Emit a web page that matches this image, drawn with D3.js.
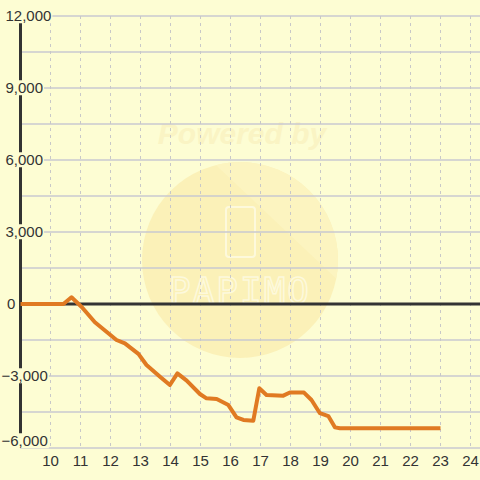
<!DOCTYPE html>
<html><head><meta charset="utf-8">
<script src="https://cdn.jsdelivr.net/npm/d3@7/dist/d3.min.js"></script>
<style>body{margin:0;background:#fdfdd3}svg{display:block}</style>
</head><body>
<svg id="c" width="480" height="480"></svg>
<script>
const xValues = [9, 10.43, 10.7, 11.04, 11.48, 12.2, 12.48, 12.93, 13.2, 13.65, 13.98, 14.23, 14.54, 14.98, 15.2, 15.54, 15.93, 16.2, 16.43, 16.76, 16.96, 17.2, 17.76, 17.98, 18.45, 18.7, 18.98, 19.26, 19.48, 19.65, 23.0];
const yValues = [0, 0, 280, -125, -760, -1500, -1640, -2080, -2540, -3030, -3375, -2890, -3190, -3750, -3930, -3960, -4210, -4720, -4830, -4860, -3510, -3790, -3820, -3690, -3690, -4000, -4550, -4670, -5140, -5180, -5180];
const xTicks = [10,11,12,13,14,15,16,17,18,19,20,21,22,23,24];
const yTicks = [12000, 9000, 6000, 3000, 0, -3000, -6000];
const yGrid = d3.range(-6000, 12001, 1500);

const bg = "#fdfdd3";
const svg = d3.select("#c");
svg.append("rect").attr("width",480).attr("height",480).attr("fill",bg);

const x = d3.scaleLinear().domain([9, 24]).range([20.5, 470.5]);
const y = d3.scaleLinear().domain([-6000, 12000]).range([448, 16]);

// watermark
const wm = svg.append("g");
wm.append("circle").attr("cx",240).attr("cy",260).attr("r",98).attr("fill","#fbf1b8");
wm.append("clipPath").attr("id","wc").append("circle").attr("cx",240).attr("cy",260).attr("r",98);
wm.append("path").attr("d","M200,150 L380,150 L380,320 Z").attr("fill","#fcf4c0").attr("clip-path","url(#wc)");
wm.append("text").attr("x",242).attr("y",144).attr("text-anchor","middle")
  .attr("font-family","Liberation Sans, Arial").attr("font-weight","bold").attr("font-style","italic")
  .attr("font-size",30).attr("fill","#faf4c4").text("Powered by");
wm.append("rect").attr("x",226).attr("y",207).attr("width",29).attr("height",50).attr("rx",3)
  .attr("fill","none").attr("stroke","#fdf9dc").attr("stroke-width",2);
wm.append("text").attr("x",240).attr("y",303).attr("text-anchor","middle")
  .attr("font-family","DejaVu Sans Mono, monospace").attr("font-size",36).attr("letter-spacing",2)
  .attr("fill","none").attr("stroke","#fdf9dc").attr("stroke-width",1.5).text("PAPIMO");

// grid
const grid = svg.append("g");
grid.selectAll("line.h").data(yGrid).join("line")
  .attr("x1",20).attr("x2",480).attr("y1",d=>y(d)).attr("y2",d=>y(d))
  .attr("stroke","#c8c8d0").attr("stroke-width",1.3);
grid.selectAll("line.v").data(xTicks).join("line")
  .attr("x1",d=>x(d)).attr("x2",d=>x(d)).attr("y1",y(12000)).attr("y2",y(-6000))
  .attr("stroke","#c8c8c8").attr("stroke-width",1).attr("stroke-dasharray","3,4");

// axes
svg.append("line").attr("x1",x(9)).attr("x2",x(9)).attr("y1",y(12000)).attr("y2",y(-6000))
  .attr("stroke","#333").attr("stroke-width",3);
svg.append("line").attr("x1",x(9)).attr("x2",480).attr("y1",y(0)).attr("y2",y(0))
  .attr("stroke","#333").attr("stroke-width",3);

// y labels with background
const fmt = d3.format(",");
const yl = svg.append("g").attr("font-family","Liberation Sans, Arial").attr("font-size",15).attr("fill","#333");
yTicks.forEach(v => {
  const g = yl.append("g");
  const ty = Math.min(y(v), 441);
  const t = g.append("text").attr("x", v < 0 ? 1.5 : (v === 0 ? 7 : 5.5)).attr("y", ty).attr("dy","0.35em").text(fmt(v));
  const b = t.node().getBBox();
  g.insert("rect","text").attr("x",b.x).attr("y",b.y+1).attr("width",b.width+1).attr("height",b.height-2).attr("fill",bg);
});

// x labels
svg.append("g").attr("font-family","Liberation Sans, Arial").attr("font-size",15).attr("fill","#333")
  .selectAll("text").data(xTicks).join("text")
  .attr("x",d=>x(d)).attr("y",466).attr("text-anchor","middle").text(d=>d);

// series
const pts = xValues.map((v,i)=>[v, yValues[i]]);
svg.append("path").datum(pts)
  .attr("d", d3.line().x(d=>x(d[0])).y(d=>y(d[1])))
  .attr("fill","none").attr("stroke","#e07a22").attr("stroke-width",4).attr("stroke-linejoin","round");
</script>
</body></html>
